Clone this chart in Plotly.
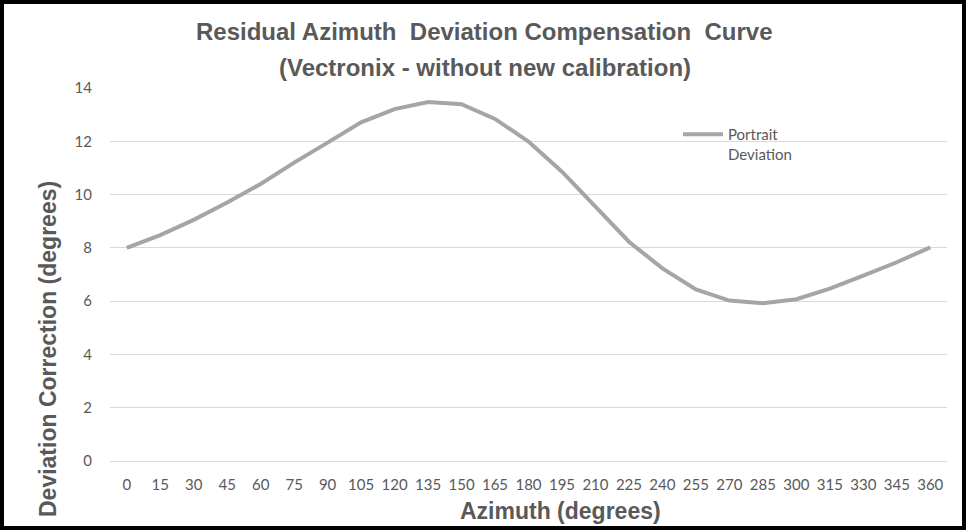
import plotly.graph_objects as go

azimuth = [0, 15, 30, 45, 60, 75, 90, 105, 120, 135, 150, 165, 180,
           195, 210, 225, 240, 255, 270, 285, 300, 315, 330, 345, 360]
portrait_deviation = [8.00, 8.48, 9.05, 9.70, 10.40, 11.20, 11.95, 12.71, 13.21, 13.47, 13.39, 12.84, 11.99,
                      10.86, 9.55, 8.23, 7.23, 6.44, 6.02, 5.92, 6.07, 6.47, 6.96, 7.46, 8.02]
x_labels = [str(a) for a in azimuth]

W, H = 966, 530
L, R, T, B = 110, 19, 88, 69
pw, ph = W - L - R, H - T - B

grey_text = "#595959"
tick_font = dict(family="Lato, Carlito, sans-serif", size=15, color=grey_text)
bold_font = "Liberation Sans, Arial, sans-serif"

fig = go.Figure()
fig.add_trace(go.Scatter(
    x=x_labels, y=portrait_deviation, mode="lines",
    name="Portrait<br>Deviation",
    line=dict(color="#a5a5a5", width=4),
))

fig.update_layout(
    width=W, height=H,
    margin=dict(l=L, r=R, t=T, b=B),
    paper_bgcolor="white", plot_bgcolor="white",
    showlegend=True,
    legend=dict(x=(678 - L) / pw, y=1 + (T - 118) / ph, xanchor="left", yanchor="top",
                font=tick_font, valign="top", bgcolor="rgba(0,0,0,0)", itemwidth=40),
    xaxis=dict(type="category", range=[-0.5, 24.5], showgrid=False, zeroline=False,
               showline=False, tickfont=tick_font, ticks="outside", ticklen=10,
               tickcolor="rgba(0,0,0,0)"),
    yaxis=dict(range=[0, 14], dtick=2, tick0=0, showgrid=True, gridcolor="#d9d9d9",
               gridwidth=1, zeroline=True, zerolinecolor="#d9d9d9", zerolinewidth=1,
               showline=False, tickfont=tick_font, ticks="outside", ticklen=14,
               tickcolor="rgba(0,0,0,0)"),
    annotations=[
        dict(text="<b>Residual Azimuth  Deviation Compensation  Curve</b>", xref="paper", yref="paper",
             x=(484 - L) / pw, y=1 + (T - 32) / ph, xanchor="center", yanchor="middle", showarrow=False,
             font=dict(family=bold_font, size=24, color=grey_text)),
        dict(text="<b>(Vectronix - without new calibration)</b>", xref="paper", yref="paper",
             x=(485 - L) / pw, y=1 + (T - 68) / ph, xanchor="center", yanchor="middle", showarrow=False,
             font=dict(family=bold_font, size=24, color=grey_text)),
        dict(text="<b>Azimuth (degrees)</b>", xref="paper", yref="paper",
             x=(560 - L) / pw, y=-(511 - (H - B)) / ph, xanchor="center", yanchor="middle", showarrow=False,
             font=dict(family=bold_font, size=23, color=grey_text)),
        dict(text="<b>Deviation Correction (degrees)</b>", xref="paper", yref="paper", textangle=-90,
             x=-(L - 48) / pw, y=1 - (349 - T) / ph, xanchor="center", yanchor="middle", showarrow=False,
             font=dict(family=bold_font, size=23, color=grey_text)),
    ],
    shapes=[
        dict(type="rect", xref="paper", yref="paper",
             x0=-L / pw, x1=1 + R / pw, y0=-B / ph, y1=1 + T / ph,
             line=dict(color="black", width=8), fillcolor="rgba(0,0,0,0)", layer="above"),
    ],
)

fig.write_html("out.html", config={"displayModeBar": False},
               post_script="document.body.style.margin='0px';document.body.style.padding='0px';")
